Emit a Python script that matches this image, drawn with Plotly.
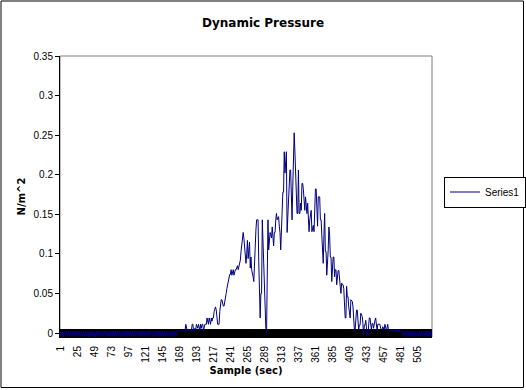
import plotly.graph_objects as go

# ---- data ----
quiet_head = [
    0.002, -0.004, 0.002, 0.002, -0.005, 0.002, 0.002, -0.004, 0.002, 0.003, -0.004, 0.002, 0.002, -0.005, 0.002,
    0.002, -0.004, 0.002, 0.002, -0.004, 0.003, 0.002, -0.005, 0.002, 0.002, -0.004, 0.002, 0.002, -0.004, 0.002,
    0.003, -0.005, 0.002, 0.002, -0.004, 0.002, 0.002, -0.004, 0.002, 0.002, -0.005, 0.002, 0.003, -0.004, 0.002,
    0.002, -0.004, 0.002, 0.002, -0.005, 0.002, 0.002, -0.004, 0.003, 0.002, -0.004, 0.002, 0.002, -0.005, 0.002,
    0.002, -0.004, 0.002, 0.003, -0.004, 0.002, 0.002, -0.005, 0.002, 0.002, -0.004, 0.002, 0.002, -0.004, 0.003,
    0.002, -0.005, 0.002, 0.002, -0.004, 0.002, 0.002, -0.004, 0.002, 0.003, -0.005, 0.002, 0.002, -0.004, 0.002,
    0.002, -0.004, 0.002, 0.002, -0.005, 0.003, 0.002, -0.004, 0.002, 0.002, -0.004, 0.002, 0.002, -0.005, 0.002,
    0.003, -0.004, 0.002, 0.002, -0.004, 0.002, 0.002, -0.005, 0.002, 0.002, -0.004, 0.003, 0.002, -0.004, 0.002,
    0.002, -0.005, 0.002, 0.002, -0.004, 0.002, 0.003, -0.004, 0.002, 0.002, -0.005, 0.002, 0.002, -0.004, 0.002,
    0.002, -0.004, 0.003, 0.002, -0.005, 0.002, 0.002, -0.004, 0.002, 0.002, -0.004, 0.002, 0.003, -0.005, 0.002,
    0.002, -0.004, 0.002, 0.002, -0.004, 0.002, 0.002, -0.005, 0.003, 0.002, -0.004, 0.002, 0.002, -0.004, 0.002,
]

active = [
    0.003, 0.003, 0.002, 0.003, 0.003, 0.003, 0.002, 0.003, 0.003, 0.003,
    0.003, 0.003, 0.011, 0.003, 0.003, 0.003, 0.002, 0.003, 0.003, 0.003,
    0.003, 0.011, 0.011, 0.003, 0.003, 0.006, 0.003, 0.011, 0.006, 0.006,
    0.011, 0.003, 0.003, 0.011, 0.006, 0.011, 0.011, 0.003, 0.011, 0.011,
    0.011, 0.011, 0.019, 0.011, 0.011, 0.019, 0.011, 0.011, 0.019, 0.015,
    0.019, 0.019, 0.027, 0.033, 0.033, 0.029, 0.019, 0.011, 0.011, 0.011,
    0.027, 0.042, 0.042, 0.042, 0.034, 0.034, 0.034, 0.042, 0.042, 0.050,
    0.056, 0.062, 0.067, 0.071, 0.074, 0.074, 0.080, 0.073, 0.080, 0.080,
    0.073, 0.080, 0.080, 0.080, 0.085, 0.085, 0.080, 0.085, 0.092, 0.092,
    0.103, 0.115, 0.127, 0.127, 0.120, 0.110, 0.096, 0.088, 0.100, 0.117,
    0.094, 0.105, 0.115, 0.082, 0.096, 0.080, 0.071, 0.071, 0.065, 0.096,
    0.115, 0.130, 0.143, 0.143, 0.143, 0.090, 0.035, 0.019, 0.050, 0.050,
    0.143, 0.109, 0.075, 0.042, 0.012, 0.006, 0.000, 0.067, 0.143, 0.105,
    0.120, 0.127, 0.124, 0.120, 0.134, 0.122, 0.110, 0.127, 0.127, 0.143,
    0.151, 0.143, 0.147, 0.147, 0.135, 0.127, 0.105, 0.138, 0.160, 0.178,
    0.178, 0.229, 0.202, 0.229, 0.229, 0.127, 0.151, 0.151, 0.181, 0.206,
    0.206, 0.181, 0.143, 0.185, 0.233, 0.253, 0.230, 0.206, 0.172, 0.151,
    0.151, 0.206, 0.151, 0.151, 0.164, 0.155, 0.189, 0.189, 0.181, 0.155,
    0.155, 0.172, 0.151, 0.151, 0.164, 0.136, 0.128, 0.143, 0.155, 0.155,
    0.128, 0.136, 0.136, 0.128, 0.174, 0.182, 0.182, 0.151, 0.135, 0.172,
    0.172, 0.172, 0.143, 0.143, 0.124, 0.088, 0.088, 0.124, 0.151, 0.103,
    0.103, 0.073, 0.105, 0.105, 0.134, 0.124, 0.096, 0.096, 0.065, 0.084,
    0.096, 0.096, 0.071, 0.080, 0.080, 0.061, 0.075, 0.079, 0.079, 0.059,
    0.059, 0.050, 0.063, 0.061, 0.061, 0.056, 0.027, 0.019, 0.019, 0.059,
    0.046, 0.046, 0.033, 0.019, 0.019, 0.042, 0.040, 0.040, 0.033, 0.016,
    0.004, 0.004, 0.021, 0.029, 0.029, 0.016, 0.004, 0.010, 0.010, 0.025,
    0.021, 0.021, 0.012, -0.004, 0.010, 0.010, 0.016, 0.006, -0.003, -0.003,
    0.012, 0.019, 0.019, 0.008, 0.004, 0.012, 0.012, 0.006, 0.016, 0.016,
    0.019, 0.003, 0.003, 0.011, 0.011, 0.011, 0.011, 0.006, 0.004, 0.004,
    0.008, 0.004, 0.004, 0.011, 0.004, 0.004, 0.006, 0.011, 0.004, 0.003,
    0.003, 0.003, 0.003, 0.003, 0.003, 0.003, 0.003, 0.003, 0.003, 0.003,
    0.003, 0.003, 0.003, 0.003, 0.003, 0.003, 0.003, 0.003,
]

quiet_tail = [
    0.002, -0.004, 0.002, 0.002, -0.004, 0.002, 0.003, -0.005, 0.002, 0.002, -0.004, 0.002, 0.002, -0.004,
    0.002, 0.003, -0.005, 0.002, 0.002, -0.004, 0.002, 0.002, -0.004, 0.002, 0.003, -0.004, 0.002, 0.002,
    -0.005, 0.002, 0.002, -0.004, 0.002, 0.002, -0.004, 0.003, 0.002, -0.005, 0.002, 0.002, -0.004, 0.002,
]

pressure = quiet_head + active + quiet_tail
samples = list(range(1, len(pressure) + 1))

x_tick_vals = list(range(1, 506, 24))
x_tick_text = [str(v) for v in x_tick_vals]
y_tick_vals = [0, 0.05, 0.1, 0.15, 0.2, 0.25, 0.3, 0.35]
y_tick_text = ["0", "0.05", "0.1", "0.15", "0.2", "0.25", "0.3", "0.35"]

# ---- layout geometry ----
W, H = 526, 390
ML, MR, MT, MB = 60, 94, 56, 53
PW, PH = W - ML - MR, H - MT - MB

tick_font = dict(family="Liberation Sans, Arial, sans-serif", size=10, color="black")
bold_font = dict(family="DejaVu Sans, sans-serif", size=10, color="black", weight="bold")

fig = go.Figure()
fig.add_trace(go.Scatter(
    x=samples, y=pressure, mode="lines", name="Series1",
    line=dict(color="#000080", width=1),
))

fig.update_layout(
    width=W, height=H,
    margin=dict(l=ML, r=MR, t=MT, b=MB, pad=0, autoexpand=False),
    paper_bgcolor="white", plot_bgcolor="white",
    title=dict(text="Dynamic Pressure", x=0.5, xref="container", xanchor="center",
               y=1 - 23 / H, yref="container", yanchor="middle",
               font=dict(family="DejaVu Sans, sans-serif", size=12, color="black", weight="bold")),
    showlegend=True,
    legend=dict(x=444 / W, xref="container", xanchor="left",
                y=1 - 192 / H, yref="container", yanchor="middle",
                bordercolor="black", borderwidth=1, bgcolor="white",
                font=tick_font, itemwidth=30, tracegroupgap=0),
    xaxis=dict(range=[0.5, len(pressure) + 0.5], showline=True, linecolor="black", linewidth=1,
               ticks="", tickmode="array", tickvals=x_tick_vals, ticktext=x_tick_text,
               tickangle=-90, tickfont=tick_font, showgrid=False, zeroline=False,
               ticklabelstandoff=4,
               title=dict(text="Sample (sec)", font=bold_font, standoff=5)),
    yaxis=dict(range=[-4 / 791.4, 0.35], showline=True, linecolor="black", linewidth=1,
               ticks="outside", ticklen=4, tickcolor="black", tickmode="array",
               tickvals=y_tick_vals, ticktext=y_tick_text, tickfont=tick_font,
               showgrid=False, zeroline=True, zerolinecolor="black", zerolinewidth=8,
               title=dict(text="N/m^2", font=bold_font, standoff=6)),
    shapes=[
        dict(type="rect", xref="paper", yref="paper", x0=0, x1=1, y0=0, y1=1,
             line=dict(color="#808080", width=1), fillcolor="rgba(0,0,0,0)", layer="below"),
        dict(type="rect", xref="paper", yref="paper",
             x0=(1 - ML) / PW, x1=(W - 2.5 - ML) / PW,
             y0=-(MB - 2.5) / PH, y1=1 + (MT - 1) / PH,
             line=dict(color="black", width=1), fillcolor="rgba(0,0,0,0)"),
    ],
)

fig.write_html("out.html", config={"displayModeBar": False},
               post_script="document.body.style.margin='0px';document.body.style.overflow='hidden';")
